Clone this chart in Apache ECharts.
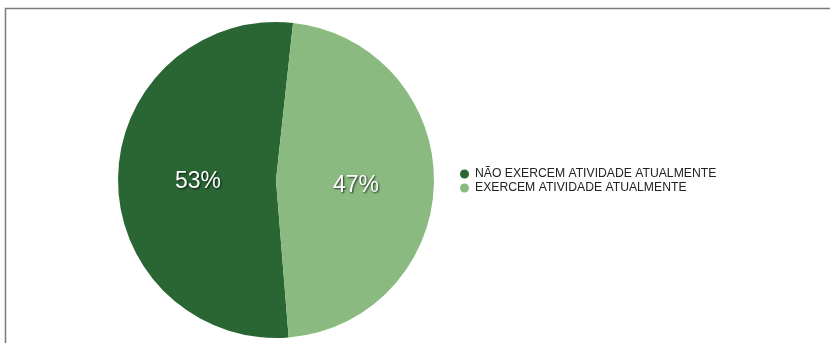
<!DOCTYPE html>
<html>
<head>
<meta charset="utf-8">
<script src="https://cdn.jsdelivr.net/npm/echarts@6/dist/echarts.min.js"></script>
<style>
  html, body { margin: 0; padding: 0; background: #fff; }
  #chart { width: 830px; height: 343px; }
</style>
</head>
<body>
<div id="chart"></div>
<script>
// Situação profissional atual
const categories = ['NÃO EXERCEM ATIVIDADE ATUALMENTE', 'EXERCEM ATIVIDADE ATUALMENTE'];
const values = [53, 47];
const colors = ['#296633', '#8aba80'];
// small per-slice label nudges
const labelOffsets = [[4, 3], [-2, 5]];

const chart = echarts.init(document.getElementById('chart'), null, { renderer: 'canvas' });

chart.setOption({
  animation: false,
  color: colors,
  graphic: [{
    type: 'polyline',
    shape: { points: [[5.5, 343], [5.5, 8.5], [830, 8.5]] },
    style: { stroke: '#7a7a7a', lineWidth: 1.5, fill: null }
  }],
  legend: {
    orient: 'vertical',
    left: 460,
    top: 167,
    padding: 0,
    itemWidth: 9,
    itemHeight: 9,
    itemGap: 0,
    icon: 'circle',
    data: categories,
    textStyle: {
      fontFamily: 'Liberation Sans, Arial, sans-serif',
      fontSize: 12.2,
      lineHeight: 14,
      color: '#222',
      padding: [0, 0, 0, 1]
    }
  },
  series: [{
    type: 'pie',
    center: [276, 180],
    radius: [0, 158],
    clockwise: false,
    startAngle: 83.8,
    label: {
      show: true,
      position: 'inside',
      formatter: '{d}%',
      fontFamily: 'Liberation Sans, Arial, sans-serif',
      fontSize: 23,
      color: '#fff',
      textShadowColor: 'rgba(0,0,0,0.75)',
      textShadowBlur: 2,
      textShadowOffsetX: 1,
      textShadowOffsetY: 1
    },
    labelLine: { show: false },
    itemStyle: { borderWidth: 0 },
    emphasis: { disabled: true },
    data: categories.map((name, i) => ({
      name,
      value: values[i],
      label: { offset: labelOffsets[i] }
    }))
  }]
});
</script>
</body>
</html>
